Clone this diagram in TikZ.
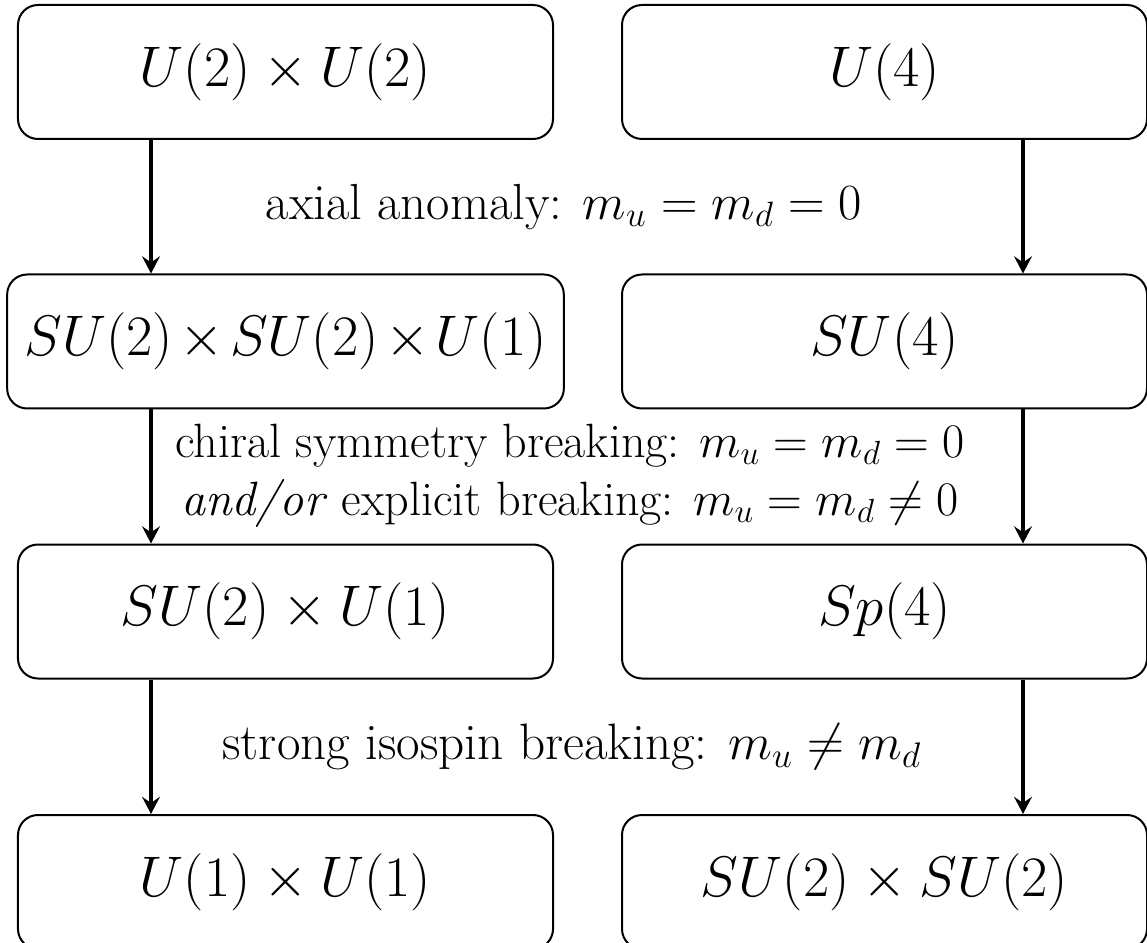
\documentclass[tikz,border=0pt]{standalone}
\usepackage{graphicx}
\usetikzlibrary{arrows.meta}
\newcommand{\labtext}[2]{\scalebox{#1}{\huge\begin{tabular}{@{}c@{}}#2\end{tabular}}}
\newcommand{\boxtext}[1]{\scalebox{1.035}{\Huge #1}}
\begin{document}
\begin{tikzpicture}[x=0.45pt,y=-0.45pt,
  groupbox/.style={draw, line width=0.9pt, rounded corners=9pt,
    minimum height=60.3pt, inner sep=7.7pt},
  leftbox/.style={groupbox, minimum width=240.75pt},
  rightbox/.style={groupbox, minimum width=236.25pt},
  arr/.style={line width=1.4pt, -{Stealth[length=7.7pt,width=8pt,inset=2.7pt]}},
  steplabel/.style={inner sep=0pt}]
\useasboundingbox (0,0) rectangle (1147,943);
\clip (0,0) rectangle (1147,943);

\node[leftbox] (l1) at (285.5,72) {\boxtext{$U(2)\times U(2)$}};
\node[leftbox] (l2) at (285.5,341.5) {\boxtext{$SU(2)\mkern2mu{\times}\mkern2mu SU(2)\mkern2mu{\times}\mkern2mu U(1)$}};
\node[leftbox] (l3) at (285.5,611.5) {\boxtext{$SU(2)\times U(1)$}};
\node[leftbox] (l4) at (285.5,882) {\boxtext{$U(1)\times U(1)$}};

\node[rightbox] (r1) at (884.5,72) {\boxtext{$U(4)$}};
\node[rightbox] (r2) at (884.5,341.5) {\boxtext{$SU(4)$}};
\node[rightbox] (r3) at (884.5,611.5) {\boxtext{$Sp(4)$}};
\node[rightbox] (r4) at (884.5,882) {\boxtext{$SU(2)\times SU(2)$}};

\coordinate (xl) at (151,0);
\coordinate (xr) at (1023,0);

\draw[arr] (l1.south -| xl) -- (l2.north -| xl);
\draw[arr] (l2.south -| xl) -- (l3.north -| xl);
\draw[arr] (l3.south -| xl) -- (l4.north -| xl);
\draw[arr] (r1.south -| xr) -- (r2.north -| xr);
\draw[arr] (r2.south -| xr) -- (r3.north -| xr);
\draw[arr] (r3.south -| xr) -- (r4.north -| xr);

\node[steplabel] (t1) at (564,207) {\labtext{1.10}{axial anomaly: $m_u=m_d=0$}};
\node[steplabel] (t2) at (570,475) {\labtext{1.045}{chiral symmetry breaking: $m_u=m_d=0$\\
  \textit{and/or} explicit breaking: $m_u=m_d\neq0$}};
\node[steplabel] (t3) at (572,747) {\labtext{1.11}{strong isospin breaking: $m_u\neq m_d$}};
\end{tikzpicture}
\end{document}
